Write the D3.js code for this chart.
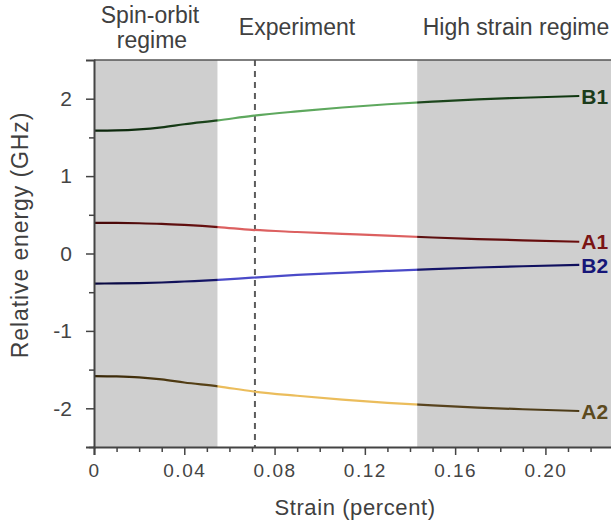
<!DOCTYPE html>
<html>
<head>
<meta charset="utf-8">
<script src="https://cdn.jsdelivr.net/npm/d3@7"></script>
<style>
  html, body { margin: 0; padding: 0; background: #fff; }
  svg { display: block; font-family: "Liberation Sans", Arial, sans-serif; }
</style>
</head>
<body>
<svg id="chart" width="611" height="523"></svg>
<script>
// ---- data ----
const strain = [0, 0.01, 0.02, 0.03, 0.04, 0.055, 0.07, 0.09, 0.11, 0.13, 0.15, 0.17, 0.19, 0.215];
const B1 = [1.587, 1.590, 1.603, 1.630, 1.670, 1.720, 1.778, 1.836, 1.886, 1.928, 1.962, 1.992, 2.012, 2.035];
const A1 = [0.396, 0.395, 0.391, 0.383, 0.369, 0.342, 0.306, 0.278, 0.254, 0.230, 0.207, 0.187, 0.170, 0.152];
const B2 = [-0.388, -0.387, -0.383, -0.375, -0.362, -0.341, -0.312, -0.277, -0.250, -0.225, -0.201, -0.181, -0.165, -0.148];
const A2 = [-1.583, -1.588, -1.601, -1.627, -1.667, -1.716, -1.780, -1.838, -1.888, -1.929, -1.962, -1.991, -2.012, -2.035];
const seriesNames = ["B1", "A1", "B2", "A2"];
const xTickValues = [0, 0.04, 0.08, 0.12, 0.16, 0.20];
const xTickLabels = ["0", "0.04", "0.08", "0.12", "0.16", "0.20"];
const yTickValues = [-2, -1, 0, 1, 2];
const yTickLabels = ["-2", "-1", "0", "1", "2"];
const regimeSpans = [[0, 0.0547], [0.1432, 0.2295]];
const experimentStrain = 0.0713;
const topLabels = ["Spin-orbit|regime", "Experiment", "High strain regime"];

// ---- styles ----
const palette = {
  B1: { d0: "#092209", d1: "#1d471d", lt: "#5ea85e", d2: "#1e481e", d3: "#0f360f", label: "#1b3b1b" },
  A1: { d0: "#460707", d1: "#6a1212", lt: "#dc6060", d2: "#5c1010", d3: "#6a0c0c", label: "#7a1414" },
  B2: { d0: "#08083e", d1: "#17176a", lt: "#4a4ac8", d2: "#16166a", d3: "#0f0f5c", label: "#161678" },
  A2: { d0: "#372606", d1: "#5a4418", lt: "#ebbd5c", d2: "#5a4520", d3: "#4b3a16", label: "#5c4a1e" }
};
const seriesData = { B1, A1, B2, A2 };

const svg = d3.select("#chart");
const x = d3.scaleLinear().domain([0, 0.2295]).range([94, 612]);
const y = d3.scaleLinear().domain([-2.5, 2.5]).range([447, 60]);

// shaded regimes
svg.append("g").selectAll("rect").data(regimeSpans).join("rect")
  .attr("x", d => x(d[0])).attr("width", d => x(d[1]) - x(d[0]))
  .attr("y", y(2.5)).attr("height", y(-2.5) - y(2.5))
  .attr("fill", "#cfcfcf");

// experiment dashed line
svg.append("line")
  .attr("x1", x(experimentStrain)).attr("x2", x(experimentStrain))
  .attr("y1", y(2.5)).attr("y2", y(-2.5))
  .attr("stroke", "#5c5c5c").attr("stroke-width", 2).attr("stroke-dasharray", "6,5");

// gradients
const defs = svg.append("defs");
const xEnd = strain[strain.length - 1];
seriesNames.forEach(name => {
  const p = palette[name];
  const g = defs.append("linearGradient").attr("id", "grad-" + name)
    .attr("gradientUnits", "userSpaceOnUse")
    .attr("x1", x(0)).attr("x2", x(xEnd)).attr("y1", 0).attr("y2", 0);
  const f = v => v / xEnd;
  const stops = [
    [0, p.d0], [f(regimeSpans[0][1]) - 0.001, p.d1], [f(regimeSpans[0][1]) + 0.001, p.lt],
    [f(regimeSpans[1][0]) - 0.001, p.lt], [f(regimeSpans[1][0]) + 0.001, p.d2], [1, p.d3]
  ];
  g.selectAll("stop").data(stops).join("stop")
    .attr("offset", d => d[0]).attr("stop-color", d => d[1]);
});

// lines
const line = d3.line().curve(d3.curveMonotoneX)
  .x((d, i) => x(strain[i])).y(d => y(d));
seriesNames.forEach(name => {
  svg.append("path").datum(seriesData[name])
    .attr("fill", "none").attr("stroke", `url(#grad-${name})`)
    .attr("stroke-width", 2.2).attr("d", line);
  const vals = seriesData[name];
  svg.append("text")
    .attr("x", x(xEnd) + 2).attr("y", y(vals[vals.length - 1]))
    .attr("dy", "0.36em")
    .attr("font-size", 21).attr("font-weight", "bold")
    .attr("fill", palette[name].label)
    .text(name);
});

// top border
svg.append("line").attr("x1", x(0)).attr("x2", 611).attr("y1", y(2.5)).attr("y2", y(2.5))
  .attr("stroke", "#555").attr("stroke-width", 1.5);

// axes
const tickColor = "#444";
const xMinor = d3.range(0, 0.2295, 0.01).filter(v => !xTickValues.some(t => Math.abs(t - v) < 1e-6));
const gxMinor = svg.append("g").attr("transform", `translate(0,${y(-2.5)})`)
  .call(d3.axisBottom(x).tickValues(xMinor).tickSize(5).tickFormat(""));
const gx = svg.append("g").attr("transform", `translate(0,${y(-2.5)})`)
  .call(d3.axisBottom(x).tickValues(xTickValues).tickSize(8).tickPadding(9)
    .tickFormat((d, i) => xTickLabels[i]));
const yMinor = [-2.5, -1.5, -0.5, 0.5, 1.5];
const gyMinor = svg.append("g").attr("transform", `translate(${x(0)},0)`)
  .call(d3.axisLeft(y).tickValues(yMinor).tickSize(5).tickFormat(""));
const gy = svg.append("g").attr("transform", `translate(${x(0)},0)`)
  .call(d3.axisLeft(y).tickValues(yTickValues).tickSize(8).tickPadding(14)
    .tickFormat((d, i) => yTickLabels[i]));

[gx, gy, gxMinor, gyMinor].forEach(g => {
  g.select(".domain").attr("stroke", tickColor).attr("stroke-width", 2);
  g.selectAll(".tick line").attr("stroke", tickColor).attr("stroke-width", 1.5);
  g.selectAll("text").attr("fill", "#444").attr("font-family", "Liberation Sans, Arial, sans-serif");
});
gx.selectAll("text").attr("font-size", 19).attr("letter-spacing", "1.5px");
gy.selectAll("text").attr("font-size", 21);
gxMinor.select(".domain").remove();
gyMinor.select(".domain").remove();

// axis titles
svg.append("text").attr("x", 355).attr("y", 515).attr("text-anchor", "middle")
  .attr("font-size", 22).attr("letter-spacing", "0.6px").attr("fill", "#404040")
  .text("Strain (percent)");
svg.append("text").attr("transform", "translate(28,235) rotate(-90)").attr("text-anchor", "middle")
  .attr("font-size", 23).attr("letter-spacing", "0.9px").attr("fill", "#404040")
  .text("Relative energy (GHz)");

// top labels
const tl = svg.append("g").attr("font-size", 23).attr("fill", "#404040").attr("text-anchor", "middle");
const so = topLabels[0].split("|");
tl.append("text").attr("x", 150).attr("y", 23).text(so[0]);
tl.append("text").attr("x", 152).attr("y", 48).text(so[1]);
tl.append("text").attr("x", 297).attr("y", 35).text(topLabels[1]);
tl.append("text").attr("x", 516).attr("y", 35).text(topLabels[2]);
</script>
</body>
</html>
